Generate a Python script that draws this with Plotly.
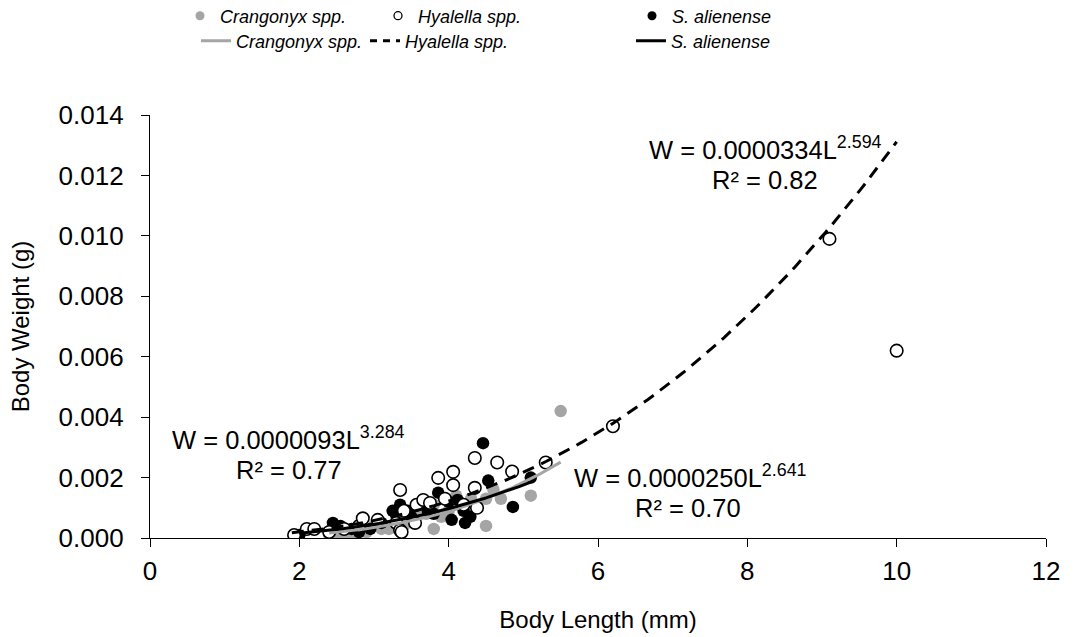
import numpy as np
import plotly.graph_objects as go

# ---- data ----
crang_x = [2.4, 2.5, 2.6, 2.7, 2.8, 2.9, 3.0, 3.1, 3.2, 3.3, 3.4, 3.5, 3.6, 3.7, 3.8, 3.8, 3.9, 4.0,
           4.1, 4.2, 4.3, 4.5, 4.5, 4.6, 4.7, 5.1, 5.5]
crang_y = [0.0001, 0.00003, 0.0002, 0.0001, 0.0003, 0.0002, 0.0004, 0.0003, 0.0003, 0.0007, 0.0004,
           0.0006, 0.0009, 0.0008, 0.0011, 0.0003, 0.0007, 0.0009, 0.0014, 0.0010, 0.0013, 0.0004,
           0.0013, 0.0016, 0.0013, 0.0014, 0.0042]

hyal_x = [1.93, 2.1, 2.2, 2.4, 2.6, 2.8, 2.85, 3.05, 3.3, 3.35, 3.35, 3.37, 3.4, 3.55, 3.57, 3.66,
          3.75, 3.86, 3.95, 4.06, 4.06, 4.2, 4.35, 4.35, 4.38, 4.65, 4.85, 5.3, 6.2, 9.1, 10.0]
hyal_y = [0.0001, 0.0003, 0.0003, 0.0002, 0.0003, 0.0004, 0.00065, 0.0006, 0.0005, 0.00159, 0.00026,
          0.0002, 0.0009, 0.0005, 0.0011, 0.00126, 0.00116, 0.00199, 0.0013, 0.00219, 0.00175, 0.0011,
          0.00265, 0.00166, 0.001, 0.0025, 0.0022, 0.0025, 0.0037, 0.0099, 0.0062]

sali_x = [2.0, 2.4, 2.45, 2.55, 2.7, 2.8, 2.95, 3.1, 3.25, 3.35, 3.45, 3.5, 3.72, 3.8, 3.86, 4.0,
          4.04, 4.12, 4.2, 4.22, 4.29, 4.46, 4.53, 4.86, 5.1]
sali_y = [0.0001, 0.0002, 0.0005, 0.0004, 0.0003, 0.0002, 0.0003, 0.0005, 0.0009, 0.0011, 0.0009,
          0.0007, 0.0009, 0.0008, 0.0015, 0.0012, 0.0006, 0.00126, 0.0009, 0.0005, 0.0007, 0.00314,
          0.0019, 0.00103, 0.0020]

# power-law fits W = a * L^b  (a, b, R², L from, L to)
crang_fit = (0.0000093, 3.284, 0.77, 2.4, 5.5)
hyal_fit = (0.0000334, 2.594, 0.82, 1.9, 10.0)
sali_fit = (0.0000250, 2.641, 0.70, 2.0, 5.1)

x_ticks = [0, 2, 4, 6, 8, 10, 12]
y_ticks = [0, 0.002, 0.004, 0.006, 0.008, 0.010, 0.012, 0.014]

GRAY = "#a5a5a5"
FONT = "Liberation Sans, Arial, sans-serif"

fig = go.Figure()


def fit_curve(p):
    a, b, r2, lo, hi = p
    xs = np.linspace(lo, hi, 120)
    return xs, a * xs ** b


# points
fig.add_trace(go.Scatter(x=crang_x, y=crang_y, mode="markers", showlegend=False,
                         marker=dict(size=12.5, color=GRAY, line=dict(width=0))))
fig.add_trace(go.Scatter(x=sali_x, y=sali_y, mode="markers", showlegend=False,
                         marker=dict(size=12.5, color="black", line=dict(width=0))))
fig.add_trace(go.Scatter(x=hyal_x, y=hyal_y, mode="markers", showlegend=False,
                         marker=dict(size=12.5, color="white", line=dict(width=1.6, color="black"))))

# fit lines
xs, ys = fit_curve(crang_fit)
fig.add_trace(go.Scatter(x=xs, y=ys, mode="lines", showlegend=False,
                         line=dict(color=GRAY, width=3)))
xs, ys = fit_curve(sali_fit)
fig.add_trace(go.Scatter(x=xs, y=ys, mode="lines", showlegend=False,
                         line=dict(color="black", width=3)))
xs, ys = fit_curve(hyal_fit)
fig.add_trace(go.Scatter(x=xs, y=ys, mode="lines", showlegend=False,
                         line=dict(color="black", width=3, dash="12px,8px")))

# legend-only traces, each in its own legend for placement
leg_items = [
    ("Crangonyx spp.", dict(mode="markers", marker=dict(size=9, color=GRAY))),
    ("Hyalella spp.", dict(mode="markers", marker=dict(size=8, color="white", line=dict(width=1.3, color="black")))),
    ("S. alienense", dict(mode="markers", marker=dict(size=9, color="black"))),
    ("Crangonyx spp.", dict(mode="lines", line=dict(color=GRAY, width=3))),
    ("Hyalella spp.", dict(mode="lines", line=dict(color="black", width=3, dash="7px,6px"))),
    ("S. alienense", dict(mode="lines", line=dict(color="black", width=3))),
]
leg_pos = [(180, 16), (378, 16), (632, 16), (196, 41), (365, 41), (631, 41)]

W_PX, H_PX = 1077, 637
L, R, T, B = 150, 31, 115, 99
PW, PH = W_PX - L - R, H_PX - T - B

layout_legends = {}
for i, ((name, kw), (px, py)) in enumerate(zip(leg_items, leg_pos)):
    key = "legend" if i == 0 else f"legend{i + 1}"
    fig.add_trace(go.Scatter(x=[None], y=[None], name=name, legend=key, showlegend=True, **kw))
    layout_legends[key] = dict(
        xref="container", yref="container",
        x=px / W_PX, y=1 - py / H_PX, xanchor="left", yanchor="middle",
        bgcolor="rgba(0,0,0,0)", font=dict(family=FONT, size=18, color="black", style="italic"),
        orientation="h", itemwidth=30,
    )

ann_font = dict(family=FONT, size=25.5, color="black")


def px2data(px, py):
    return (px - L) / PW * 12, (T + PH - py) / PH * 0.014


annots = []
# (fit, x centre of equation, x centre of R², y of the gap between the two lines)
for p, eqx, rx, gap_y in [
    (crang_fit, 288, 289, 455),
    (hyal_fit, 765, 765, 165),
    (sali_fit, 690, 688, 493),
]:
    a, b, r2, lo, hi = p
    x1, y_gap = px2data(eqx, gap_y)
    x2, _ = px2data(rx, gap_y)
    annots.append(dict(x=x1, y=y_gap, text=f"W = {a:.7f}L<sup>{b:.3f}</sup>", showarrow=False,
                       font=ann_font, xanchor="center", yanchor="bottom", borderpad=0))
    annots.append(dict(x=x2, y=y_gap, text=f"R² = {r2:.2f}", showarrow=False,
                       font=ann_font, xanchor="center", yanchor="top", borderpad=0))

axis_common = dict(showgrid=False, zeroline=False, showline=True, linecolor="black", linewidth=1.3,
                   ticks="outside", ticklen=8, tickcolor="black", tickwidth=1.3,
                   tickfont=dict(family=FONT, size=26, color="black"))

fig.update_layout(
    width=W_PX, height=H_PX,
    margin=dict(l=L, r=R, t=T, b=B, autoexpand=False),
    paper_bgcolor="white", plot_bgcolor="white",
    font=dict(family=FONT, color="black"),
    xaxis=dict(range=[0, 12], tickvals=x_ticks, ticktext=[str(v) for v in x_ticks],
               ticklabelstandoff=2,
               title=dict(text="Body Length (mm)", font=dict(family=FONT, size=24), standoff=25),
               **axis_common),
    yaxis=dict(range=[0, 0.014], tickvals=y_ticks, ticktext=[f"{v:.3f}" for v in y_ticks],
               ticklabelstandoff=12,
               title=dict(text="Body Weight (g)", font=dict(family=FONT, size=24), standoff=22),
               **axis_common),
    annotations=annots,
    **layout_legends,
)

fig.write_html("out.html")
